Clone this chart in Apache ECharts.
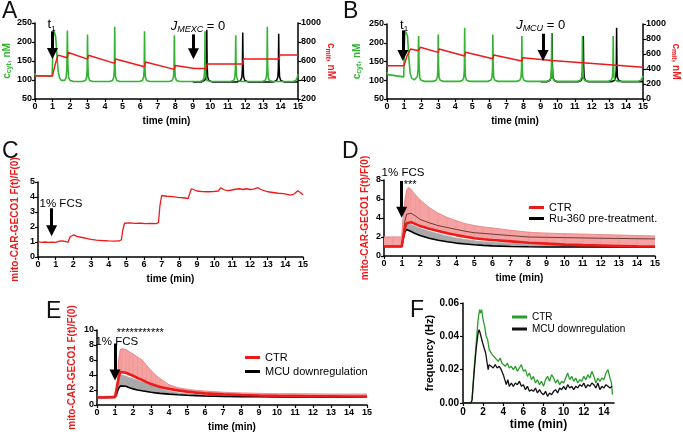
<!DOCTYPE html>
<html><head><meta charset="utf-8">
<script src="https://cdn.jsdelivr.net/npm/echarts@6/dist/echarts.min.js"></script>
<style>html,body{margin:0;padding:0;background:#fff}#c{width:683px;height:434px}</style>
</head><body><div id="c"></div>
<script>
// ---------- Panel A (t min, value) ----------
const aCyt = [[0,118],[0.03,112],[0.1,110],[0.98,110],[1.03,190],[1.07,232],[1.12,234],[1.18,215],[1.25,170],[1.32,125],[1.4,106],[1.5,99],[1.6,97],[1.7,99],[1.78,106],[1.82,130],[1.85,230],[1.88,140],[1.92,106],[2.0,99],[2.2,96],
[2.7,96],[2.88,99],[2.95,108],[2.98,130],[3.0,220],[3.02,140],[3.05,108],[3.12,99],[3.3,96],
[4.25,96],[4.43,99],[4.5,108],[4.53,130],[4.55,240],[4.57,140],[4.6,108],[4.67,99],[4.85,96],
[5.95,96],[6.13,99],[6.2,108],[6.23,130],[6.25,228],[6.27,140],[6.3,108],[6.37,99],[6.55,96],
[7.65,96],[7.83,99],[7.9,108],[7.93,130],[7.95,218],[7.97,140],[8.0,108],[8.07,99],[8.25,96],
[9.4,96],[9.58,99],[9.65,108],[9.68,130],[9.7,228],[9.72,140],[9.75,108],[9.82,99],[10.0,96],
[11.15,96],[11.33,99],[11.4,108],[11.43,130],[11.45,218],[11.47,140],[11.5,108],[11.57,99],[11.75,96],
[12.95,96],[13.13,99],[13.2,108],[13.23,130],[13.25,240],[13.27,140],[13.3,108],[13.37,99],[13.55,96],
[14.7,96],[14.88,99],[14.95,106],[15.0,115]];
const aCytMexc0 = [[9.0,95],[9.5,95],[9.68,99],[9.75,108],[9.78,130],[9.8,232],[9.82,140],[9.85,108],[9.92,99],[10.1,95],
[11.55,95],[11.73,99],[11.8,108],[11.83,130],[11.85,225],[11.87,140],[11.9,108],[11.97,99],[12.15,95],
[13.6,95],[13.78,99],[13.85,108],[13.88,130],[13.9,222],[13.92,140],[13.95,108],[14.02,99],[14.2,95],[15,95]];
const aMit = [[0,443],[1.0,443],[1.15,560],[1.32,662],[1.85,635],[1.9,690],[3.0,620],[3.05,660],[4.55,575],[4.6,622],[6.25,540],[6.3,590],[7.95,512],[8.0,552],[9.1,522],[9.78,522],[9.82,568],[11.85,568],[11.89,620],[13.92,620],[13.96,662],[15,662]];

// ---------- Panel B ----------
const bCyt = [[0,122],[0.05,115],[0.15,110],[0.98,109],[1.02,200],[1.06,232],[1.12,235],[1.2,218],[1.28,160],[1.36,118],[1.45,105],[1.6,101],[1.7,103],[1.78,110],[1.82,130],[1.85,218],[1.88,140],[1.92,106],[2.0,100],[2.2,97],
[2.7,97],[2.88,100],[2.95,108],[2.98,130],[3.0,222],[3.02,140],[3.05,108],[3.12,100],[3.3,97],
[4.25,97],[4.43,100],[4.5,108],[4.53,130],[4.55,240],[4.57,140],[4.6,108],[4.67,100],[4.85,97],
[5.9,97],[6.08,100],[6.15,108],[6.18,130],[6.2,222],[6.22,140],[6.25,108],[6.32,100],[6.5,97],
[7.6,97],[7.78,100],[7.85,108],[7.88,130],[7.9,218],[7.92,140],[7.95,108],[8.02,100],[8.2,97],
[9.35,97],[9.53,100],[9.6,108],[9.63,130],[9.65,225],[9.67,140],[9.7,108],[9.77,100],[9.95,97],
[11.15,97],[11.33,100],[11.4,108],[11.43,130],[11.45,218],[11.47,140],[11.5,108],[11.57,100],[11.75,97],
[12.95,97],[13.13,100],[13.2,108],[13.23,130],[13.25,218],[13.27,140],[13.3,108],[13.37,100],[13.55,97],
[14.7,97],[14.88,100],[14.95,106],[15.0,112]];
const bCytMcu0 = [[9.0,96],[9.35,96],[9.55,100],[9.62,108],[9.65,130],[9.67,225],[9.69,140],[9.72,108],[9.79,100],[9.97,96],
[11.2,96],[11.38,100],[11.45,108],[11.48,130],[11.5,218],[11.52,140],[11.55,108],[11.62,100],[11.8,96],
[13.15,96],[13.33,100],[13.4,108],[13.43,130],[13.45,240],[13.47,140],[13.5,108],[13.57,100],[13.75,96],[15,96]];
const bMit = [[0,444],[1.0,444],[1.15,560],[1.38,667],[1.85,644],[1.95,689],[3.0,622],[3.05,667],[4.55,573],[4.6,622],[6.2,538],[6.25,587],[7.9,507],[7.95,551],[9.65,513],[9.7,527],[11.45,482],[11.5,493],[13.25,452],[13.3,462],[15,422]];

// ---------- Panel C ----------
const cRatio = [[0,1.02],[0.2,0.98],[0.4,1.0],[0.6,0.97],[0.8,0.99],[1.0,0.98],[1.1,1.0],[1.2,1.06],[1.35,1.08],[1.5,1.05],[1.6,1.0],[1.7,0.98],[1.75,1.05],[1.82,1.35],[1.9,1.45],[2.0,1.47],[2.2,1.38],[2.5,1.3],[2.8,1.22],[3.0,1.18],[3.3,1.13],[3.6,1.1],[4.0,1.07],[4.3,1.06],[4.6,1.07],[4.72,1.15],[4.8,1.8],[4.9,2.25],[5.0,2.35],[5.2,2.28],[5.5,2.24],[5.8,2.25],[6.1,2.22],[6.4,2.24],[6.7,2.23],[6.82,2.3],[6.9,3.4],[7.0,4.1],[7.1,4.12],[7.3,4.05],[7.6,4.02],[7.9,3.98],[8.2,3.95],[8.5,3.9],[8.58,4.2],[8.68,4.55],[8.8,4.5],[9.0,4.4],[9.3,4.36],[9.6,4.35],[9.9,4.36],[10.2,4.4],[10.35,4.62],[10.5,4.5],[10.7,4.42],[10.9,4.45],[11.1,4.5],[11.2,4.6],[11.4,4.55],[11.6,4.5],[11.8,4.55],[12.0,4.5],[12.2,4.52],[12.45,4.63],[12.6,4.5],[12.8,4.42],[13.0,4.35],[13.3,4.3],[13.6,4.25],[13.9,4.22],[14.1,4.18],[14.3,4.12],[14.5,4.2],[14.7,4.42],[14.85,4.3],[15,4.15]];

// ---------- Panel D ----------
const dTime     = [0,0.5,0.98,1.05,1.15,1.25,1.35,1.5,1.75,2.0,2.5,3.0,3.5,4.0,4.5,5.0,5.5,6.0,7.0,8.0,9.0,10.0,11.0,12.0,13.0,14.0,15.0];
const dCtrMean  = [1.0,1.0,1.0,1.8,2.9,3.45,3.62,3.55,3.35,3.15,2.88,2.63,2.4,2.2,2.02,1.86,1.76,1.68,1.54,1.4,1.3,1.2,1.14,1.1,1.06,1.02,1.0];
const dCtrUpper = [2.0,2.0,2.0,3.8,5.8,6.9,7.2,7.0,6.4,5.9,5.1,4.5,4.05,3.7,3.4,3.2,3.05,2.95,2.7,2.5,2.4,2.35,2.3,2.25,2.2,2.15,2.1];
const dRuMean   = [1.0,1.0,1.0,1.7,2.5,2.8,2.72,2.58,2.35,2.15,1.86,1.65,1.5,1.36,1.27,1.18,1.12,1.07,1.0,0.97,0.95,0.95,0.94,0.94,0.94,0.94,0.94];
const dRuUpper  = [1.0,1.0,1.0,1.8,2.9,3.3,3.4,3.3,3.1,2.9,2.6,2.35,2.1,1.9,1.75,1.6,1.5,1.45,1.35,1.25,1.18,1.12,1.08,1.05,1.03,1.0,0.98];
const dRuSd     = [1.0,1.0,1.0,2.0,3.6,4.4,4.6,4.5,4.2,3.85,3.5,3.2,3.0,2.8,2.6,2.45,2.38,2.3,2.15,2.0,1.97,1.93,1.9,1.87,1.85,1.82,1.8];

// ---------- Panel E ----------
const eTime     = [0,0.5,1.0,1.1,1.2,1.3,1.4,1.6,1.8,2.0,2.25,2.5,2.75,3.0,3.25,3.5,4.0,4.5,5.0,5.5,6.0,7.0,8.0,9.0,10.0,11.0,12.0,13.0,14.0,15.0];
const eCtrMean  = [1.0,1.0,1.05,1.2,3.6,4.4,4.45,4.3,4.1,3.9,3.6,3.35,3.05,2.8,2.6,2.4,2.15,1.95,1.78,1.65,1.55,1.42,1.33,1.27,1.22,1.2,1.17,1.15,1.13,1.12];
const eCtrUpper = [1.15,1.15,1.2,1.5,6.0,7.4,7.55,7.4,7.1,6.8,6.4,6.0,5.3,4.6,4.0,3.5,2.7,2.3,2.1,1.95,1.85,1.7,1.6,1.55,1.5,1.5,1.48,1.45,1.45,1.45];
const eMcuMean  = [1.0,1.0,1.05,1.15,2.2,2.55,2.6,2.5,2.3,2.15,2.0,1.9,1.8,1.7,1.62,1.55,1.45,1.36,1.3,1.25,1.2,1.15,1.12,1.1,1.08,1.07,1.06,1.05,1.05,1.05];
const eMcuUpper = [1.0,1.0,1.05,1.2,3.3,3.95,4.0,3.85,3.65,3.5,3.3,3.1,2.9,2.7,2.45,2.2,1.85,1.62,1.5,1.42,1.35,1.28,1.22,1.18,1.15,1.14,1.13,1.12,1.12,1.12];

// ---------- Panel F (frequency, Hz) ----------
const fCtr = [[0,0],[0.8,0],[0.9,0.002],[1.1,0.02],[1.3,0.035],[1.5,0.05],[1.65,0.056],[1.75,0.054],[1.85,0.056],[2.0,0.05],[2.15,0.046],[2.3,0.04],[2.45,0.038],[2.6,0.032],[2.75,0.033],[2.9,0.029],[3.05,0.03],[3.2,0.027],[3.35,0.028],[3.5,0.025],[3.7,0.027],[3.85,0.024],[4.0,0.023],[4.2,0.022],[4.4,0.024],[4.6,0.021],[4.8,0.022],[5.0,0.02],[5.2,0.022],[5.4,0.019],[5.6,0.021],[5.8,0.023],[6.0,0.019],[6.2,0.02],[6.4,0.016],[6.6,0.018],[6.8,0.014],[7.0,0.016],[7.2,0.012],[7.4,0.014],[7.6,0.011],[7.8,0.013],[8.0,0.01],[8.2,0.014],[8.4,0.016],[8.6,0.013],[8.8,0.017],[9.0,0.015],[9.2,0.012],[9.4,0.014],[9.6,0.011],[9.8,0.013],[10.0,0.012],[10.2,0.015],[10.4,0.018],[10.6,0.014],[10.8,0.016],[11.0,0.013],[11.2,0.015],[11.4,0.012],[11.6,0.014],[11.8,0.013],[12.0,0.016],[12.2,0.014],[12.4,0.017],[12.6,0.015],[12.8,0.019],[13.0,0.016],[13.2,0.012],[13.4,0.015],[13.6,0.013],[13.8,0.015],[14.0,0.014],[14.2,0.018],[14.4,0.02],[14.6,0.015],[14.75,0.012],[14.85,0.005]];
const fMcu = [[0,0],[0.8,0],[0.9,0.002],[1.1,0.018],[1.3,0.032],[1.5,0.042],[1.6,0.044],[1.7,0.042],[1.8,0.043],[1.95,0.036],[2.1,0.033],[2.25,0.03],[2.4,0.024],[2.5,0.02],[2.6,0.023],[2.8,0.022],[3.0,0.021],[3.2,0.023],[3.4,0.021],[3.6,0.022],[3.8,0.02],[4.0,0.017],[4.15,0.014],[4.3,0.011],[4.45,0.014],[4.6,0.01],[4.8,0.012],[5.0,0.01],[5.2,0.012],[5.4,0.011],[5.6,0.013],[5.8,0.01],[6.0,0.011],[6.2,0.008],[6.4,0.01],[6.6,0.007],[6.8,0.008],[7.0,0.007],[7.2,0.009],[7.4,0.006],[7.6,0.008],[7.8,0.006],[8.0,0.005],[8.2,0.007],[8.4,0.004],[8.6,0.006],[8.8,0.005],[9.0,0.007],[9.2,0.008],[9.4,0.006],[9.6,0.009],[9.8,0.008],[10.0,0.01],[10.2,0.008],[10.4,0.011],[10.6,0.009],[10.8,0.01],[11.0,0.008],[11.2,0.01],[11.4,0.009],[11.6,0.011],[11.8,0.01],[12.0,0.012],[12.2,0.009],[12.4,0.011],[12.6,0.01],[12.8,0.012],[13.0,0.011],[13.2,0.009],[13.4,0.012],[13.6,0.008],[13.8,0.01],[14.0,0.009],[14.2,0.011],[14.4,0.01],[14.6,0.009],[14.8,0.01]];

// ---------- styling helpers ----------
const FONT = 'Arial, "Liberation Sans", Helvetica, sans-serif';
const GREEN = '#33b533', RED = '#ee1a1a', PINK = '#f5a2a2', GREY = '#a8a8a8';
const zip = (t, v) => t.map((x, i) => [x, v[i]]);
// segments [t0, lo0, hi0, t1, lo1, hi1] for a band drawn between two curves
const segs = (t, lo, hi) => t.slice(0, -1).map((x, i) => [x, lo[i], hi[i], t[i + 1], lo[i + 1], hi[i + 1]]);

function xAx(grid, extra) {
  return Object.assign({
    type: 'value', gridIndex: grid, min: 0, max: 15, interval: 1,
    name: 'time (min)', nameLocation: 'middle', nameGap: 17,
    nameTextStyle: {fontFamily: FONT, fontWeight: 'bold', fontSize: 10, color: '#000'},
    axisLine: {show: true, onZero: false, lineStyle: {color: '#000', width: 1.5}},
    axisTick: {show: true, length: 3, lineStyle: {color: '#000', width: 1.2}},
    axisLabel: {fontFamily: FONT, fontWeight: 'bold', fontSize: 9, color: '#000', margin: 3, showMaxLabel: true},
    splitLine: {show: false}
  }, extra || {});
}
function yAx(grid, min, max, interval, extra) {
  return Object.assign({
    type: 'value', gridIndex: grid, min: min, max: max, interval: interval,
    nameLocation: 'middle',
    axisLine: {show: true, onZero: false, lineStyle: {color: '#000', width: 1.5}},
    axisTick: {show: true, length: 3, lineStyle: {color: '#000', width: 1.2}},
    axisLabel: {fontFamily: FONT, fontWeight: 'bold', fontSize: 9, color: '#000', margin: 3, formatter: v => String(v)},
    splitLine: {show: false}
  }, extra || {});
}
const subRich = (color) => ({
  b: {fontFamily: FONT, fontWeight: 'bold', fontSize: 10, color: color, lineHeight: 12},
  s: {fontFamily: FONT, fontWeight: 'bold', fontSize: 7, color: color, lineHeight: 12, padding: [5, 0, 0, 0]}
});
const redName = {fontFamily: FONT, fontWeight: 'bold', fontSize: 10, color: RED};

function arrow(x, y0, y1) {
  return {
    silent: true, animation: false, symbol: ['none', 'triangle'], symbolSize: 11,
    label: {show: false},
    lineStyle: {color: '#000', width: 3, type: 'solid'},
    emphasis: {disabled: true},
    data: [[{coord: [x, y0]}, {coord: [x, y1]}]]
  };
}
function note(x, y, text, rich, fontSize, offset) {
  return {
    coord: [x, y], symbol: 'circle', symbolSize: 0,
    label: {show: true, position: 'inside', formatter: text, offset: offset || [0, 0],
      fontFamily: FONT, fontSize: fontSize || 13, color: '#000', rich: rich || {}}
  };
}
function notes(items) {
  return {silent: true, animation: false, symbolSize: 0, itemStyle: {color: 'transparent'}, data: items};
}
const tRich = {a: {fontFamily: FONT, fontSize: 13, lineHeight: 16}, s: {fontFamily: FONT, fontSize: 8, lineHeight: 16, padding: [7, 0, 0, 0]}};
const jRich = {a: {fontFamily: FONT, fontSize: 13, fontStyle: 'italic', lineHeight: 16}, s: {fontFamily: FONT, fontSize: 9, fontStyle: 'italic', lineHeight: 16, padding: [6, 0, 0, 0]}, n: {fontFamily: FONT, fontSize: 13, lineHeight: 16}};

function line(name, xi, yi, data, color, width, extra) {
  return Object.assign({
    type: 'line', name: name, xAxisIndex: xi, yAxisIndex: yi, data: data,
    symbol: 'none', showSymbol: false, animation: false, silent: true,
    lineStyle: {color: color, width: width}, itemStyle: {color: color}
  }, extra || {});
}
function band(name, xi, yi, rows, fill, whisker) {
  return {
    type: 'custom', name: name, xAxisIndex: xi, yAxisIndex: yi, data: rows,
    animation: false, silent: true, clip: true,
    encode: {x: [0, 3], y: [1, 2, 4, 5]},
    renderItem: function (params, api) {
      const a = api.coord([api.value(0), api.value(1)]);
      const b = api.coord([api.value(3), api.value(4)]);
      const c = api.coord([api.value(3), api.value(5)]);
      const d = api.coord([api.value(0), api.value(2)]);
      const children = [{type: 'polygon', shape: {points: [a, b, c, d]},
        style: {fill: fill, stroke: fill, lineWidth: 0.7}}];
      if (whisker) children.push({type: 'line', shape: {x1: d[0], y1: d[1], x2: a[0], y2: a[1]},
        style: {stroke: whisker, lineWidth: 0.6}});
      return {type: 'group', children: children};
    }
  };
}

const chart = echarts.init(document.getElementById('c'), null, {renderer: 'canvas'});
const legendText = {fontFamily: FONT, fontSize: 11, color: '#000', lineHeight: 10};

chart.setOption({
  animation: false,
  backgroundColor: '#fff',
  grid: [
    {left: 33, top: 23, width: 265, height: 76},
    {left: 387, top: 24, width: 262, height: 75},
    {left: 38, top: 182, width: 265, height: 75},
    {left: 384, top: 180, width: 271, height: 76},
    {left: 97, top: 330, width: 270, height: 75},
    {left: 463, top: 303, width: 151, height: 100}
  ],
  xAxis: [
    xAx(0), xAx(1), xAx(2), xAx(3), xAx(4),
    xAx(5, {interval: 2, nameGap: 16, nameTextStyle: {fontFamily: FONT, fontWeight: 'bold', fontSize: 12, color: '#000'},
            axisLabel: {fontFamily: FONT, fontWeight: 'bold', fontSize: 10, color: '#000', margin: 4, showMaxLabel: false}})
  ],
  yAxis: [
    yAx(0, 50, 250, 50, {name: '{b|c}{s|cyt}{b|, nM}', nameGap: 20, nameTextStyle: {rich: subRich(GREEN)}}),
    yAx(0, 200, 1000, 200, {position: 'right', name: '{b|c}{s|mit}{b|, nM}', nameRotate: -90, nameGap: 17, nameTextStyle: {rich: subRich(RED)}}),
    yAx(1, 50, 250, 50, {name: '{b|c}{s|cyt}{b|, nM}', nameGap: 24, nameTextStyle: {rich: subRich(GREEN)}}),
    yAx(1, 0, 1000, 200, {position: 'right', name: '{b|c}{s|mit}{b|, nM}', nameRotate: -90, nameGap: 17, nameTextStyle: {rich: subRich(RED)}}),
    yAx(2, 0, 5, 1, {name: 'mito-CAR-GECO1 F(t)/F(0)', nameGap: 18, nameTextStyle: redName}),
    yAx(3, 0, 8, 2, {name: 'mito-CAR-GECO1 F(t)/F(0)', nameGap: 14, nameTextStyle: redName}),
    yAx(4, 0, 10, 2, {name: 'mito-CAR-GECO1 F(t)/F(0)', nameGap: 20, nameTextStyle: redName}),
    yAx(5, 0, 0.06, 0.02, {name: 'frequency (Hz)', nameGap: 27,
      nameTextStyle: {fontFamily: FONT, fontWeight: 'bold', fontSize: 11, color: '#000'},
      axisLabel: {fontFamily: FONT, fontWeight: 'bold', fontSize: 10, color: '#000', margin: 4, formatter: v => v.toFixed(2)}})
  ],
  legend: [
    {data: ['CTR|D', 'Ru-360 pre-treatment.'], left: 524, top: 197, orient: 'vertical', itemGap: 0,
     icon: 'rect', itemWidth: 15, itemHeight: 3, textStyle: legendText, selectedMode: false, formatter: n => n.split('|')[0]},
    {data: ['CTR|E', 'MCU downregulation|E'], left: 240, top: 347, orient: 'vertical', itemGap: 3,
     icon: 'rect', itemWidth: 15, itemHeight: 3, textStyle: legendText, selectedMode: false, formatter: n => n.split('|')[0]},
    {data: ['CTR|F', 'MCU downregulation|F'], left: 507, top: 307, orient: 'vertical', itemGap: 2,
     icon: 'rect', itemWidth: 15, itemHeight: 3, textStyle: Object.assign({}, legendText, {fontSize: 10}), selectedMode: false, formatter: n => n.split('|')[0]}
  ],
  graphic: [
    {type: 'text', left: 2, top: 0, style: {text: 'A', font: '23px ' + FONT, fill: '#111'}},
    {type: 'text', left: 343, top: 0, style: {text: 'B', font: '23px ' + FONT, fill: '#111'}},
    {type: 'text', left: 2, top: 140, style: {text: 'C', font: '23px ' + FONT, fill: '#111'}},
    {type: 'text', left: 342, top: 140, style: {text: 'D', font: '23px ' + FONT, fill: '#111'}},
    {type: 'text', left: 46, top: 300, style: {text: 'E', font: '23px ' + FONT, fill: '#111'}},
    {type: 'text', left: 410, top: 299, style: {text: 'F', font: '23px ' + FONT, fill: '#111'}}
  ],
  series: [
    // A
    line('A J_MEXC=0', 0, 0, aCytMexc0, '#000', 1.5),
    line('A cyt', 0, 0, aCyt, GREEN, 1.6, {
      markLine: arrow(1.0, 228, 170),
      markPoint: notes([note(0.95, 245, '{a|t}{s|1}', tRich), note(9.3, 242, '{a|J}{s|MEXC}{n| = 0}', jRich)])
    }),
    line('A J_MEXC=0 arrow', 0, 0, [], '#000', 1, {markLine: arrow(9.04, 220, 169)}),
    line('A mit', 0, 1, aMit, RED, 1.5),
    // B
    line('B J_MCU=0', 1, 2, bCytMcu0, '#000', 1.5),
    line('B cyt', 1, 2, bCyt, GREEN, 1.6, {
      markLine: arrow(0.93, 233, 166),
      markPoint: notes([note(1.0, 246, '{a|t}{s|1}', tRich), note(9.0, 246, '{a|J}{s|MCU}{n| = 0}', jRich)])
    }),
    line('B J_MCU=0 arrow', 1, 2, [], '#000', 1, {markLine: arrow(9.14, 224, 166)}),
    line('B mit', 1, 3, bMit, RED, 1.5),
    // C
    line('C ratio', 2, 4, cRatio, RED, 1.3, {
      markLine: arrow(0.77, 3.25, 1.75),
      markPoint: notes([note(1.3, 3.55, '1% FCS', null, 11.5)])
    }),
    // D
    band('D ctr band', 3, 5, segs(dTime, dCtrMean, dCtrUpper), PINK, '#ee8e8e'),
    line('D ctr upper', 3, 5, zip(dTime, dCtrUpper), '#e98888', 0.8),
    band('D ru band', 3, 5, segs(dTime, dRuMean, dRuUpper), GREY),
    line('D ru sd', 3, 5, zip(dTime, dRuSd), '#6b3a3a', 1),
    line('Ru-360 pre-treatment.', 3, 5, zip(dTime, dRuMean), '#000', 1.6),
    line('CTR|D', 3, 5, zip(dTime, dCtrMean), RED, 2.6, {
      markLine: arrow(0.98, 7.9, 4.6),
      markPoint: notes([note(1.05, 8, '1% FCS', null, 11.5, [0, -7]), note(1.45, 7.5, '***', null, 11)])
    }),
    // E
    band('E ctr band', 4, 6, segs(eTime, eCtrMean, eCtrUpper), PINK, '#ee8e8e'),
    line('E ctr upper', 4, 6, zip(eTime, eCtrUpper), '#e98888', 0.8),
    band('E mcu band', 4, 6, segs(eTime, eMcuMean, eMcuUpper), GREY),
    line('MCU downregulation|E', 4, 6, zip(eTime, eMcuMean), '#000', 1.6),
    line('CTR|E', 4, 6, zip(eTime, eCtrMean), RED, 2.6, {
      markLine: arrow(1.0, 8.2, 4.0),
      markPoint: notes([note(1.1, 8.4, '1% FCS', null, 11.5), note(2.4, 9.6, '***********', null, 11)])
    }),
    // F
    line('CTR|F', 5, 7, fCtr, '#2e9b2e', 1.3),
    line('MCU downregulation|F', 5, 7, fMcu, '#111', 1.3)
  ]
});
</script>
</body></html>
